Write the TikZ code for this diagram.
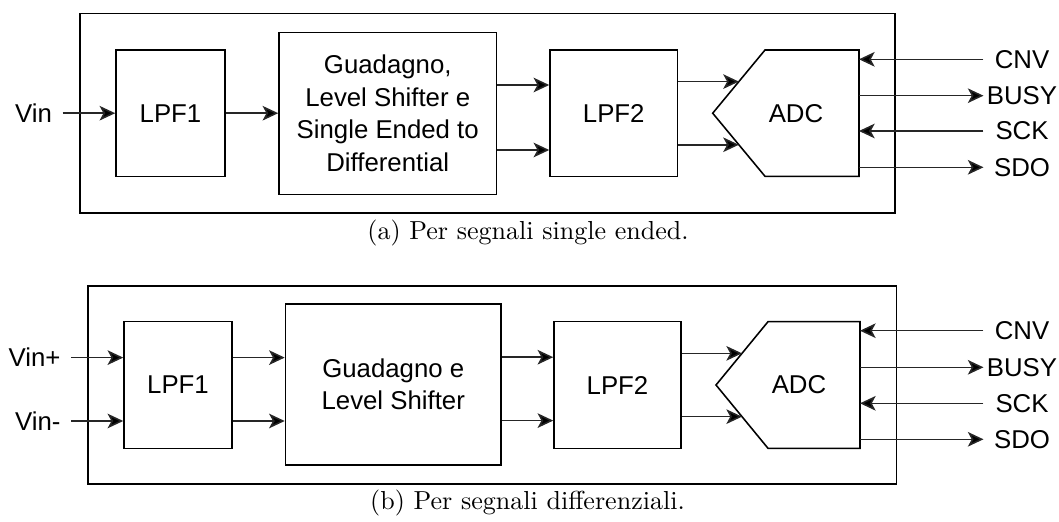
\documentclass[tikz,border=0pt]{standalone}
\usepackage{fontspec}
\newfontfamily\arialf{Liberation Sans}
\usetikzlibrary{arrows.meta,calc}
\def\pxu{0.384pt}
\begin{document}
\begin{tikzpicture}[x=0.384pt,y=-0.384pt,
  sansf/.style={font=\arialf\fontsize{9.9}{12.5}\selectfont},
  blk/.style={draw, line width=0.6pt, inner sep=0, sansf, align=center},
  frame/.style={draw, line width=0.65pt, inner sep=0},
  arr/.style={line width=0.6pt, draw=black!85, -{Stealth[length=6pt,width=5.6pt,inset=1.5pt,fill=black]}},
  lbl/.style={inner sep=0, sansf, minimum width=76*\pxu},
  inlbl/.style={sansf, inner xsep=3.84pt, inner ysep=0, anchor=east}]
\useasboundingbox (0,0) rectangle (1059,522);

% ---------------- (a) ----------------
\node[frame, minimum width=815*\pxu, minimum height=199.7*\pxu] (outA) at (487.5,113.2) {};
\node[blk, minimum width=109*\pxu, minimum height=126.3*\pxu] (lpf1a) at (170.5,113.2) {LPF1};
\node[blk, minimum width=217.5*\pxu, minimum height=162*\pxu] (guada) at (387.75,113.5)
  {Guadagno,\\Level Shifter e\\Single Ended to\\Differential};
\node[blk, minimum width=127.5*\pxu, minimum height=126.3*\pxu] (lpf2a) at (613.75,113.2) {LPF2};
\coordinate (adcTipA) at (712.7,113.2);
\coordinate (adcNWA) at (765,50);
\coordinate (adcNEA) at (859,50);
\coordinate (adcSEA) at (859,176.3);
\coordinate (adcSWA) at (765,176.3);
\draw[line width=0.6pt] (adcNWA) -- (adcNEA) -- (adcSEA) -- (adcSWA) -- (adcTipA) -- cycle;
\node[sansf] (adcA) at (796,113.2) {ADC};
\coordinate (adcInA1) at ($(adcNWA)!0.5!(adcTipA)$);
\coordinate (adcInA2) at ($(adcSWA)!0.5!(adcTipA)$);

\node[inlbl] (vina) at (62.5,113.2) {Vin};
\draw[arr] (vina.east) -- (lpf1a.west |- vina.east);
\draw[arr] (lpf1a.east) -- (guada.west |- lpf1a.east);
\coordinate (ga1) at (guada.east |- 0,85);
\coordinate (ga2) at (guada.east |- 0,150);
\draw[arr] (ga1) -- (lpf2a.west |- ga1);
\draw[arr] (ga2) -- (lpf2a.west |- ga2);
\draw[arr] (lpf2a.east |- adcInA1) -- (adcInA1);
\draw[arr] (lpf2a.east |- adcInA2) -- (adcInA2);

\node[lbl] (cnva) at (1022,59.3) {CNV};
\node[lbl] (busya) at (1022,95.7) {BUSY};
\node[lbl] (scka) at (1022,131) {SCK};
\node[lbl] (sdoa) at (1022,167.3) {SDO};
\draw[arr] (cnva.west) -- (cnva.west -| adcNEA);
\draw[arr] (busya.west -| adcNEA) -- (busya.west);
\draw[arr] (scka.west) -- (scka.west -| adcNEA);
\draw[arr] (sdoa.west -| adcNEA) -- (sdoa.west);

\node (capA) at (528,232.5) {(a) Per segnali single ended.};

% ---------------- (b) ----------------
\node[frame, minimum width=808.2*\pxu, minimum height=198.3*\pxu] (outB) at (492.4,384.85) {};
\node[blk, minimum width=108*\pxu, minimum height=126.6*\pxu] (lpf1b) at (178,385) {LPF1};
\node[blk, minimum width=215.5*\pxu, minimum height=161*\pxu] (guadb) at (393.25,384.5)
  {Guadagno e\\Level Shifter};
\node[blk, minimum width=127*\pxu, minimum height=126.6*\pxu] (lpf2b) at (617.5,385) {LPF2};
\coordinate (adcTipB) at (716,385);
\coordinate (adcNWB) at (768,321.7);
\coordinate (adcNEB) at (860,321.7);
\coordinate (adcSEB) at (860,448.3);
\coordinate (adcSWB) at (768,448.3);
\draw[line width=0.6pt] (adcNWB) -- (adcNEB) -- (adcSEB) -- (adcSWB) -- (adcTipB) -- cycle;
\node[sansf] (adcB) at (799,385) {ADC};
\coordinate (adcInB1) at ($(adcNWB)!0.5!(adcTipB)$);
\coordinate (adcInB2) at ($(adcSWB)!0.5!(adcTipB)$);

\node[inlbl] (vinp) at (71,357.6) {Vin+};
\node[inlbl] (vinm) at (71,421) {Vin-};
\draw[arr] (vinp.east) -- (lpf1b.west |- vinp.east);
\draw[arr] (vinm.east) -- (lpf1b.west |- vinm.east);
\coordinate (lb1) at (lpf1b.east |- 0,357.6);
\coordinate (lb2) at (lpf1b.east |- 0,421);
\draw[arr] (lb1) -- (guadb.west |- lb1);
\draw[arr] (lb2) -- (guadb.west |- lb2);
\coordinate (gb1) at (guadb.east |- 0,357.2);
\coordinate (gb2) at (guadb.east |- 0,420.6);
\draw[arr] (gb1) -- (lpf2b.west |- gb1);
\draw[arr] (gb2) -- (lpf2b.west |- gb2);
\draw[arr] (lpf2b.east |- adcInB1) -- (adcInB1);
\draw[arr] (lpf2b.east |- adcInB2) -- (adcInB2);

\node[lbl] (cnvb) at (1022,330.7) {CNV};
\node[lbl] (busyb) at (1022,367.3) {BUSY};
\node[lbl] (sckb) at (1022,403.3) {SCK};
\node[lbl] (sdob) at (1022,439.3) {SDO};
\draw[arr] (cnvb.west) -- (cnvb.west -| adcNEB);
\draw[arr] (busyb.west -| adcNEB) -- (busyb.west);
\draw[arr] (sckb.west) -- (sckb.west -| adcNEB);
\draw[arr] (sdob.west -| adcNEB) -- (sdob.west);

\node (capB) at (527.5,503) {(b) Per segnali differenziali.};
\end{tikzpicture}
\end{document}
